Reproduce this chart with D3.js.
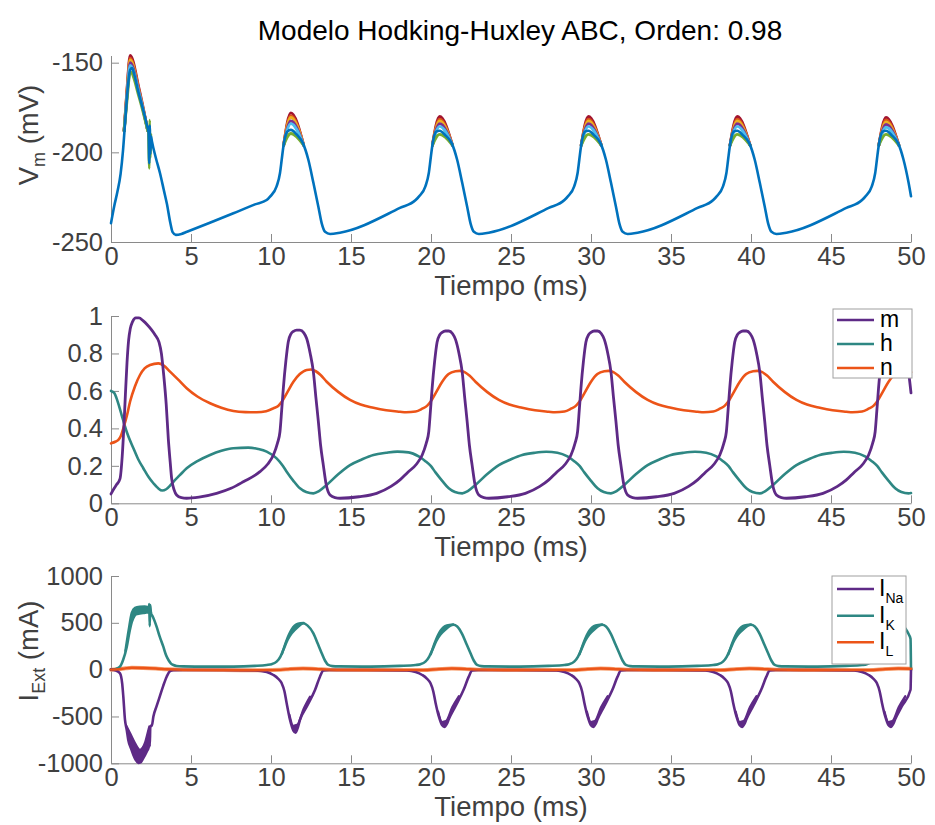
<!DOCTYPE html>
<html><head><meta charset="utf-8">
<script src="https://cdn.jsdelivr.net/npm/d3@7"></script>
<style>
body{margin:0;background:#fff}
svg{display:block}
text{font-family:"Liberation Sans",Arial,Helvetica,sans-serif}
</style>
</head><body>
<svg id="c" width="935" height="825"></svg>
<script>
// ---------------- DATA ----------------
const titleText = "Modelo Hodking-Huxley ABC, Orden: 0.98";
const xTicks = [0,5,10,15,20,25,30,35,40,45,50];
const xTickLabels = ["0","5","10","15","20","25","30","35","40","45","50"];
const vTicks = [-250,-200,-150];
const vTickLabels = ["-250","-200","-150"];
const gTicks = [0,0.2,0.4,0.6,0.8,1];
const gTickLabels = ["0","0.2","0.4","0.6","0.8","1"];
const iTicks = [-1000,-500,0,500,1000];
const iTickLabels = ["-1000","-500","0","500","1000"];

// Membrane potential (final trace, blue)
const vmBlue = [[0,-239.5],[0.2,-230],[0.4,-222],[0.6,-212],[0.75,-199],[0.9,-181],[1.05,-164],[1.2,-154],[1.32,-153],[1.45,-156.5],[1.7,-166],[2.0,-176],[2.25,-185],[2.35,-189],[2.39,-206],[2.42,-185],[2.46,-201],[2.5,-191],[2.56,-194],[2.8,-203],[3.06,-211.5],[3.3,-221],[3.5,-229],[3.7,-239],[3.85,-244.5],[4.05,-246],[4.4,-245.5],[4.75,-244.3],[7.65,-234],[9.0,-229],[9.73,-226.6],
[9.94,-224.7],[10.35,-219],[10.56,-211.7],[10.67,-204],[10.77,-197],[10.87,-192],[11.02,-188.5],[11.24,-187.5],[11.6,-190],[12.0,-195],[12.33,-204],[12.65,-217],[12.96,-230.3],[13.17,-239.6],[13.38,-244.3],[13.69,-245.5],[14.31,-244.8],[18.06,-231],[19.04,-226.6],
[19.24,-224.7],[19.65,-219],[19.86,-211.7],[19.97,-204],[20.07,-197],[20.17,-192],[20.32,-188.5],[20.54,-188],[20.9,-190.5],[21.3,-195],[21.63,-204],[21.95,-217],[22.26,-230.3],[22.47,-239.6],[22.68,-244.3],[22.99,-245.5],[23.61,-244.8],[27.36,-231],[28.34,-226.6],
[28.54,-224.7],[28.95,-219],[29.16,-211.7],[29.27,-204],[29.37,-197],[29.47,-192],[29.62,-188.5],[29.84,-188],[30.2,-190.5],[30.6,-195],[30.93,-204],[31.25,-217],[31.56,-230.3],[31.77,-239.6],[31.98,-244.3],[32.29,-245.5],[32.91,-244.8],[36.66,-231],[37.64,-226.6],
[37.84,-224.7],[38.25,-219],[38.46,-211.7],[38.57,-204],[38.67,-197],[38.77,-192],[38.92,-188.5],[39.14,-188],[39.5,-190.5],[39.9,-195],[40.23,-204],[40.55,-217],[40.86,-230.3],[41.07,-239.6],[41.28,-244.3],[41.59,-245.5],[42.21,-244.8],[45.96,-231],[46.94,-226.6],
[47.14,-224.7],[47.55,-219],[47.76,-211.7],[47.87,-204],[47.97,-197],[48.07,-192],[48.22,-188.5],[48.44,-188],[48.8,-190.5],[49.2,-195],[49.53,-204],[49.85,-217],[50,-224.5]];

// Spike peaks of the other traces (they coincide with the blue one elsewhere)
const spikeT = [1.2, 11.24, 20.54, 29.84, 39.14, 48.44];
const riseJoin = [[0.82,-188],[10.79,-196],[20.09,-196],[29.39,-196],[38.69,-196],[47.99,-196]];
const fallJoin = [[2.3,-188],[12.04,-196],[21.34,-196],[30.64,-196],[39.94,-196],[49.24,-196]];
const peakRed       = [-146,  -178,  -180,  -180,  -180,  -180.5];
const peakOrange    = [-147.5,-179.5,-181.5,-181.5,-181.5,-182];
const peakYellow    = [-148.5,-180.5,-182.5,-182.5,-182.5,-183];
const peakPurple    = [-150,  -182.5,-184,  -184,  -184,  -184.5];
const peakLightBlue = [-151.5,-184,  -185.5,-185.5,-185.5,-186];
const peakGreen     = [-155,  -189.5,-190,  -190,  -190,  -190];
// first-spike shoulders (t=1.0 on rise, t=1.75 on fall) for the same traces
const firstRise = [-165,-166,-167,-168,-168.5,-171];
const firstFall = [-164.5,-165.5,-166,-166.5,-167,-169];
const greenArtifact = [[2.33,-189],[2.39,-209],[2.42,-182],[2.46,-203],[2.5,-190]];

// Gating variables
const mGate = [[0,0.05],[0.2,0.08],[0.35,0.1],[0.56,0.13],[0.7,0.25],[0.8,0.4],[0.9,0.58],[1.0,0.75],[1.1,0.87],[1.2,0.93],[1.35,0.97],[1.55,0.99],[1.75,0.99],[2.0,0.975],[2.25,0.955],[2.5,0.93],[2.75,0.9],[3.0,0.86],[3.15,0.8],[3.3,0.68],[3.45,0.53],[3.58,0.347],[3.7,0.22],[3.79,0.133],[3.95,0.07],[4.1,0.044],[4.4,0.03],[4.73,0.027],[5.5,0.033],[6.6,0.053],[7.5,0.08],[8.27,0.115],[9.31,0.169],
[9.8,0.21],[10.15,0.258],[10.4,0.32],[10.56,0.382],[10.67,0.5],[10.77,0.614],[10.93,0.76],[11.08,0.863],[11.25,0.905],[11.4,0.918],[11.6,0.925],[11.81,0.925],[12.05,0.91],[12.23,0.88],[12.45,0.8],[12.65,0.70],[12.8,0.57],[12.96,0.436],[13.1,0.31],[13.27,0.204],[13.45,0.1],[13.69,0.044],[14.0,0.03],[14.31,0.027],[15.5,0.035],[16.6,0.053],[17.5,0.09],[18.06,0.125],[18.54,0.165],
[19.1,0.21],[19.45,0.258],[19.7,0.32],[19.86,0.382],[19.97,0.5],[20.07,0.614],[20.23,0.76],[20.38,0.86],[20.55,0.9],[20.7,0.913],[20.9,0.92],[21.11,0.92],[21.35,0.905],[21.53,0.875],[21.75,0.8],[21.95,0.70],[22.1,0.57],[22.26,0.436],[22.4,0.31],[22.57,0.204],[22.75,0.1],[22.99,0.044],[23.3,0.03],[23.61,0.027],[24.8,0.035],[25.9,0.053],[26.8,0.09],[27.36,0.125],[27.84,0.165],
[28.4,0.21],[28.75,0.258],[29.0,0.32],[29.16,0.382],[29.27,0.5],[29.37,0.614],[29.53,0.76],[29.68,0.86],[29.85,0.9],[30.0,0.913],[30.2,0.92],[30.41,0.92],[30.65,0.905],[30.83,0.875],[31.05,0.8],[31.25,0.70],[31.4,0.57],[31.56,0.436],[31.7,0.31],[31.87,0.204],[32.05,0.1],[32.29,0.044],[32.6,0.03],[32.91,0.027],[34.1,0.035],[35.2,0.053],[36.1,0.09],[36.66,0.125],[37.14,0.165],
[37.7,0.21],[38.05,0.258],[38.3,0.32],[38.46,0.382],[38.57,0.5],[38.67,0.614],[38.83,0.76],[38.98,0.86],[39.15,0.9],[39.3,0.913],[39.5,0.92],[39.71,0.92],[39.95,0.905],[40.13,0.875],[40.35,0.8],[40.55,0.70],[40.7,0.57],[40.86,0.436],[41.0,0.31],[41.17,0.204],[41.35,0.1],[41.59,0.044],[41.9,0.03],[42.21,0.027],[43.4,0.035],[44.5,0.053],[45.4,0.09],[45.96,0.125],[46.44,0.165],
[47.0,0.21],[47.35,0.258],[47.6,0.32],[47.76,0.382],[47.87,0.5],[47.97,0.614],[48.13,0.76],[48.28,0.86],[48.45,0.9],[48.6,0.913],[48.8,0.92],[49.01,0.92],[49.25,0.905],[49.43,0.875],[49.65,0.8],[49.85,0.70],[50,0.59]];

const hGate = [[0,0.6],[0.2,0.59],[0.35,0.56],[0.5,0.52],[0.67,0.47],[0.98,0.382],[1.4,0.294],[1.7,0.235],[2.02,0.187],[2.35,0.14],[2.65,0.107],[2.95,0.08],[3.2,0.068],[3.45,0.075],[3.7,0.095],[3.9,0.115],[4.3,0.15],[4.73,0.187],[5.4,0.225],[6.19,0.258],[6.9,0.28],[7.65,0.294],[8.58,0.297],[9.2,0.29],[9.73,0.276],[10.35,0.24],[10.7,0.205],[10.98,0.169],
[11.4,0.12],[11.81,0.08],[12.2,0.06],[12.65,0.053],[13.0,0.065],[13.48,0.098],[14.2,0.155],[14.94,0.204],[15.7,0.235],[16.4,0.258],[17.2,0.27],[17.9,0.276],[18.6,0.272],[19.23,0.25],[19.65,0.225],[20.0,0.198],[20.28,0.165],
[20.7,0.12],[21.11,0.08],[21.5,0.06],[21.95,0.053],[22.3,0.065],[22.78,0.098],[23.5,0.155],[24.24,0.204],[25.0,0.235],[25.7,0.258],[26.5,0.27],[27.2,0.275],[27.9,0.27],[28.53,0.25],[28.95,0.225],[29.3,0.198],[29.58,0.165],
[30.0,0.12],[30.41,0.08],[30.8,0.06],[31.25,0.053],[31.6,0.065],[32.08,0.098],[32.8,0.155],[33.54,0.204],[34.3,0.235],[35.0,0.258],[35.8,0.27],[36.5,0.275],[37.2,0.27],[37.83,0.25],[38.25,0.225],[38.6,0.198],[38.88,0.165],
[39.3,0.12],[39.71,0.08],[40.1,0.06],[40.55,0.053],[40.9,0.065],[41.38,0.098],[42.1,0.155],[42.84,0.204],[43.6,0.235],[44.3,0.258],[45.1,0.27],[45.8,0.275],[46.5,0.27],[47.13,0.25],[47.55,0.225],[47.9,0.198],[48.18,0.165],
[48.6,0.12],[49.01,0.08],[49.4,0.06],[49.85,0.053],[50,0.055]];

const nGate = [[0,0.32],[0.3,0.33],[0.46,0.338],[0.62,0.36],[0.77,0.40],[1.0,0.47],[1.19,0.542],[1.5,0.625],[1.81,0.685],[2.1,0.72],[2.44,0.738],[2.96,0.747],[3.3,0.735],[3.69,0.703],[4.2,0.66],[4.73,0.614],[5.4,0.57],[6.19,0.534],[6.9,0.51],[7.65,0.493],[8.4,0.487],[9.1,0.486],[9.7,0.492],[10.15,0.507],[10.45,0.52],[10.67,0.542],[11.0,0.59],
[11.4,0.649],[11.8,0.69],[12.23,0.712],[12.5,0.714],[12.8,0.705],[13.1,0.685],[13.48,0.649],[14.2,0.595],[14.94,0.552],[15.6,0.527],[16.4,0.51],[17.2,0.497],[18.06,0.489],[18.44,0.486],[19.04,0.49],[19.45,0.505],[19.75,0.52],[19.97,0.542],[20.3,0.59],
[20.7,0.649],[21.1,0.69],[21.53,0.705],[21.8,0.707],[22.1,0.7],[22.4,0.682],[22.78,0.649],[23.5,0.595],[24.24,0.552],[24.9,0.527],[25.7,0.51],[26.5,0.497],[27.36,0.489],[27.74,0.486],[28.34,0.49],[28.75,0.505],[29.05,0.52],[29.27,0.542],[29.6,0.59],
[30.0,0.649],[30.4,0.69],[30.83,0.705],[31.1,0.707],[31.4,0.7],[31.7,0.682],[32.08,0.649],[32.8,0.595],[33.54,0.552],[34.2,0.527],[35.0,0.51],[35.8,0.497],[36.66,0.489],[37.04,0.486],[37.64,0.49],[38.05,0.505],[38.35,0.52],[38.57,0.542],[38.9,0.59],
[39.3,0.649],[39.7,0.69],[40.13,0.705],[40.4,0.707],[40.7,0.7],[41.0,0.682],[41.38,0.649],[42.1,0.595],[42.84,0.552],[43.5,0.527],[44.3,0.51],[45.1,0.497],[45.96,0.489],[46.34,0.486],[46.94,0.49],[47.35,0.505],[47.65,0.52],[47.87,0.542],[48.2,0.59],
[48.6,0.649],[49.0,0.69],[49.43,0.705],[49.7,0.707],[50,0.7]];

// Currents
const iK = [[0,0],[0.3,8],[0.56,32],[0.75,100],[0.98,240],[1.15,400],[1.3,510],[1.45,570],[1.6,595],[1.8,600],[2.0,605],[2.2,610],[2.35,615],[2.39,700],[2.42,465],[2.45,690],[2.5,600],[2.6,570],[2.85,459],[3.05,350],[3.27,245],[3.45,150],[3.6,100],[3.75,65],[3.9,50],[4.1,39],[4.5,35],[6.0,32],[7.65,32],[9.0,40],[9.73,50],
[10.04,58],[10.35,85],[10.59,140],[10.77,210],[11.04,320],[11.29,388],[11.64,450],[12.02,495],[12.29,470],[12.65,388],[12.94,270],[13.17,175],[13.38,95],[13.58,50],[13.84,38],[14.24,35],[16.24,32],[18.04,40],[19.04,50],
[19.34,58],[19.65,85],[19.89,140],[20.07,205],[20.34,310],[20.59,375],[20.94,435],[21.39,480],[21.64,462],[21.95,380],[22.24,265],[22.47,175],[22.68,95],[22.88,50],[23.14,38],[23.54,35],[25.54,32],[27.34,40],[28.34,50],
[28.64,58],[28.95,85],[29.19,140],[29.37,205],[29.64,310],[29.89,375],[30.24,435],[30.69,480],[30.94,462],[31.25,380],[31.54,265],[31.77,175],[31.98,95],[32.18,50],[32.44,38],[32.84,35],[34.84,32],[36.64,40],[37.64,50],
[37.94,58],[38.25,85],[38.49,140],[38.67,205],[38.94,310],[39.19,375],[39.54,435],[39.99,480],[40.24,462],[40.55,380],[40.84,265],[41.07,175],[41.28,95],[41.48,50],[41.74,38],[42.14,35],[44.14,32],[45.94,40],[46.94,50],
[47.24,58],[47.55,85],[47.79,140],[47.97,205],[48.24,310],[48.49,375],[48.84,435],[49.29,480],[49.54,462],[49.85,380],[49.97,330],[50,0]];
const iKBand = [
 [[0.9,200],[1.1,420],[1.3,610],[1.5,660],[1.8,672],[2.1,675],[2.3,668],[2.5,610]],
 [[10.69,170],[10.94,300],[11.29,430],[11.69,490],[12.04,498]],
 [[19.99,165],[20.24,290],[20.59,415],[20.99,472],[21.39,482]],
 [[29.29,165],[29.54,290],[29.89,415],[30.29,472],[30.69,482]],
 [[38.59,165],[38.84,290],[39.19,415],[39.59,472],[39.99,482]],
 [[47.89,165],[48.14,290],[48.49,415],[48.89,472],[49.29,482]]];

const iNa = [[0,0],[0.3,-8],[0.56,-39],[0.7,-150],[0.77,-288],[0.875,-537],[0.98,-640],[1.08,-750],[1.25,-840],[1.4,-911],[1.55,-965],[1.71,-995],[1.85,-990],[2.0,-950],[2.23,-875],[2.35,-830],[2.39,-700],[2.42,-820],[2.46,-600],[2.55,-600],[2.65,-500],[2.85,-390],[3.06,-280],[3.27,-170],[3.48,-75],[3.69,-15],[3.9,-5],[4.5,-3],[7.0,-3],[9.0,-8],[9.73,-25],
[10.15,-57],[10.44,-95],[10.67,-146],[10.84,-230],[10.98,-360],[11.19,-537],[11.4,-650],[11.54,-672],[11.69,-610],[11.81,-537],[12.23,-395],[12.75,-217],[13.06,-75],[13.27,-10],[13.64,-3],[16,-3],[18.5,-8],[19.04,-25],
[19.45,-57],[19.74,-95],[19.97,-146],[20.14,-230],[20.28,-350],[20.49,-500],[20.7,-595],[20.84,-612],[20.99,-580],[21.11,-530],[21.53,-390],[22.05,-210],[22.36,-75],[22.57,-10],[22.94,-3],[25.34,-3],[27.84,-8],[28.34,-25],
[28.75,-57],[29.04,-95],[29.27,-146],[29.44,-230],[29.58,-350],[29.79,-500],[30.0,-595],[30.14,-612],[30.29,-580],[30.41,-530],[30.83,-390],[31.35,-210],[31.66,-75],[31.87,-10],[32.24,-3],[34.64,-3],[37.14,-8],[37.64,-25],
[38.05,-57],[38.34,-95],[38.57,-146],[38.74,-230],[38.88,-350],[39.09,-500],[39.3,-595],[39.44,-612],[39.59,-580],[39.71,-530],[40.13,-390],[40.65,-210],[40.96,-75],[41.17,-10],[41.54,-3],[43.94,-3],[46.44,-8],[46.94,-25],
[47.35,-57],[47.64,-95],[47.87,-146],[48.04,-230],[48.18,-350],[48.39,-500],[48.6,-595],[48.74,-612],[48.89,-580],[49.01,-530],[49.43,-390],[49.97,-215],[50,0]];
const iNaBand = [
 [[0.95,-600],[1.19,-680],[1.5,-786],[1.81,-857],[2.12,-786],[2.35,-640],[2.4,-608]],
 [[11.14,-480],[11.39,-600],[11.64,-590],[12.04,-420],[12.44,-290]],
 [[20.44,-450],[20.69,-560],[20.94,-550],[21.34,-400],[21.74,-285]],
 [[29.74,-450],[29.99,-560],[30.24,-550],[30.64,-400],[31.04,-285]],
 [[39.04,-450],[39.29,-560],[39.54,-550],[39.94,-400],[40.34,-285]],
 [[48.34,-450],[48.59,-560],[48.84,-550],[49.24,-400],[49.64,-285]]];

const iL = [[0,0],[0.5,5],[0.9,14],[1.3,20],[2.0,18],[2.8,12],[3.5,4],[4.5,-2],[7,-5],[9.5,-6],[10.6,-2],[11.2,8],[12.0,12],[12.8,8],[13.6,0],[16,-4],[19.5,-5],[20.5,6],[21.3,12],[22.1,8],[22.9,0],[25.5,-4],[28.8,-5],[29.8,6],[30.6,12],[31.4,8],[32.2,0],[34.8,-4],[38.1,-5],[39.1,6],[39.9,12],[40.7,8],[41.5,0],[44.1,-4],[47.4,-5],[48.4,6],[49.2,12],[50,10]];

const gateNames = ["m","h","n"];
const currentNames = [["I","Na"],["I","K"],["I","L"]];

// ---------------- STYLE ----------------
const C = {blue:"#0072BD", red:"#A2142F", orange:"#D95319", yellow:"#EDB120",
  mpurple:"#7E2F8E", green:"#77AC30", lblue:"#4DBEEE",
  gPurple:"#5E2A86", gTeal:"#2E8783", gOrange:"#EC5418",
  axis:"#8a8a8a", tick:"#404040"};
const tickFont = 25.5, labFont = 27.5;

const svg = d3.select("#c");
const x = d3.scaleLinear().domain([0,50]).range([111,911]);
const yV = d3.scaleLinear().domain([-250,-146]).range([242,55.5]);
const yG = d3.scaleLinear().domain([0,1]).range([503.3,316]);
const yI = d3.scaleLinear().domain([-1000,1000]).range([763.3,576]);

function drawAxes(y, ticks, labels) {
  const y0 = y.range()[0];
  const gx = svg.append("g").attr("transform", `translate(0,${y0})`)
    .call(d3.axisBottom(x).tickValues(xTicks).tickFormat((d,i)=>xTickLabels[i])
      .tickSize(-8).tickSizeOuter(0).tickPadding(5));
  const gy = svg.append("g").attr("transform", `translate(${x.range()[0]},0)`)
    .call(d3.axisLeft(y).tickValues(ticks).tickFormat((d,i)=>labels[i])
      .tickSize(-8).tickSizeOuter(0).tickPadding(8));
  [gx,gy].forEach(g=>{
    g.select(".domain").attr("stroke",C.axis).attr("stroke-width",1);
    g.selectAll(".tick line").attr("stroke",C.axis).attr("stroke-width",1);
    g.selectAll(".tick text").attr("fill",C.tick).attr("font-size",tickFont)
      .attr("font-family",'"Liberation Sans",Arial,sans-serif');
  });
  svg.append("text").attr("x",511).attr("y",y0+52.5).attr("text-anchor","middle")
    .attr("font-size",labFont).attr("fill",C.tick).text("Tiempo (ms)");
}

function lineOf(y) {
  return d3.line().x(d=>x(d[0])).y(d=>y(d[1])).curve(d3.curveMonotoneX);
}
function path(data, y, color, w) {
  svg.append("path").datum(data).attr("d", lineOf(y)).attr("fill","none")
    .attr("stroke",color).attr("stroke-width",w).attr("stroke-linejoin","round").attr("stroke-linecap","round");
}
// value of a polyline at time t (for shading the spread between traces)
function valueAt(arr, t) {
  const i = d3.bisector(d=>d[0]).left(arr, t);
  if (i <= 0) return arr[0][1];
  if (i >= arr.length) return arr[arr.length-1][1];
  const a = arr[i-1], b = arr[i];
  return a[1] + (b[1]-a[1]) * (t-a[0]) / (b[0]-a[0]);
}
function spread(band, main, y, color) {
  const t0 = band[0][0], t1 = band[band.length-1][0];
  const ts = Array.from(new Set(band.map(d=>d[0]).concat(main.map(d=>d[0]).filter(t=>t>t0&&t<t1)))).sort((a,b)=>a-b);
  const area = d3.area().x(t=>x(t)).y0(t=>y(valueAt(main,t))).y1(t=>y(valueAt(band,t))).curve(d3.curveMonotoneX);
  svg.append("path").datum(ts).attr("d", area).attr("fill",color).attr("stroke","none");
}

// ---------------- PANEL 1 ----------------
drawAxes(yV, vTicks, vTickLabels);
const peakSets = [[peakRed,C.red],[peakOrange,C.orange],[peakYellow,C.yellow],[peakPurple,C.mpurple],[peakLightBlue,C.lblue],[peakGreen,C.green]];
peakSets.forEach(([pk,col],k)=>{
  spikeT.forEach((tp,i)=>{
    const seg = i===0
      ? [riseJoin[0],[1.0,firstRise[k]],[tp,pk[0]],[1.75,firstFall[k]],fallJoin[0]]
      : [riseJoin[i],[tp,pk[i]],fallJoin[i]];
    path(seg, yV, col, 2.9);
  });
});
path(greenArtifact, yV, C.green, 2.4);
path(vmBlue, yV, C.blue, 2.6);

svg.append("text").attr("transform","translate(38.4,135) rotate(-90)")
  .attr("text-anchor","middle").attr("font-size",labFont).attr("fill",C.tick)
  .call(t=>{
    t.append("tspan").text("V");
    t.append("tspan").attr("font-size",18).attr("dy",7).text("m");
    t.append("tspan").attr("dy",-7).text(" (mV)");
  });

// ---------------- PANEL 2 ----------------
drawAxes(yG, gTicks, gTickLabels);
path(hGate, yG, C.gTeal, 2.6);
path(nGate, yG, C.gOrange, 2.6);
path(mGate, yG, C.gPurple, 2.8);

// legend 2
(function(){
  const g = svg.append("g");
  g.append("rect").attr("x",833).attr("y",309).attr("width",79).attr("height",69)
    .attr("fill","#fff").attr("stroke","#a0a0a0").attr("stroke-width",1);
  const cols = [C.gPurple,C.gTeal,C.gOrange];
  const rows = [320,344,368];
  gateNames.forEach((nm,i)=>{
    g.append("line").attr("x1",837).attr("x2",874).attr("y1",rows[i]).attr("y2",rows[i])
      .attr("stroke",cols[i]).attr("stroke-width",2.6);
    g.append("text").attr("x",880).attr("y",rows[i]+7).attr("font-size",23)
      .attr("fill","#000").text(nm);
  });
})();

// ---------------- PANEL 3 ----------------
drawAxes(yI, iTicks, iTickLabels);
path(iL, yI, "#F7A070", 4);
iKBand.forEach(s=>spread(s, iK, yI, C.gTeal));
iKBand.forEach(s=>path(s, yI, C.gTeal, 2.4));
path(iK, yI, C.gTeal, 2.6);
iNaBand.forEach(s=>spread(s, iNa, yI, C.gPurple));
iNaBand.forEach(s=>path(s, yI, C.gPurple, 2.4));
path(iNa, yI, C.gPurple, 2.6);
path(iL, yI, C.gOrange, 2.4);

svg.append("text").attr("transform","translate(37.5,651) rotate(-90)")
  .attr("text-anchor","middle").attr("font-size",labFont).attr("fill",C.tick)
  .call(t=>{
    t.append("tspan").text("I");
    t.append("tspan").attr("font-size",18).attr("dy",7).text("Ext");
    t.append("tspan").attr("dy",-7).text(" (mA)");
  });

// legend 3
(function(){
  const g = svg.append("g");
  g.append("rect").attr("x",832).attr("y",576).attr("width",74).attr("height",88)
    .attr("fill","#fff").attr("stroke","#a0a0a0").attr("stroke-width",1);
  const cols = [C.gPurple,C.gTeal,C.gOrange];
  const rows = [589,615.7,642.3];
  currentNames.forEach((nm,i)=>{
    g.append("line").attr("x1",837).attr("x2",874).attr("y1",rows[i]).attr("y2",rows[i])
      .attr("stroke",cols[i]).attr("stroke-width",2.6);
    const t = g.append("text").attr("x",879).attr("y",rows[i]+7).attr("font-size",23).attr("fill","#000");
    t.append("tspan").text(nm[0]);
    t.append("tspan").attr("font-size",14).attr("dy",7).text(nm[1]);
  });
})();

// ---------------- TITLE ----------------
svg.append("text").attr("x",520).attr("y",40).attr("text-anchor","middle")
  .attr("font-size",28).attr("fill","#000").text(titleText);
</script>
</body></html>
